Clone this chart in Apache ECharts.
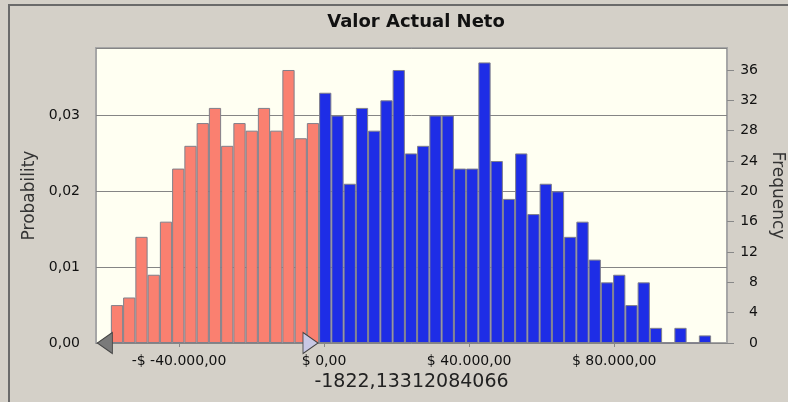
<!DOCTYPE html>
<html>
<head>
<meta charset="utf-8">
<script src="https://cdn.jsdelivr.net/npm/echarts@6/dist/echarts.min.js"></script>
<style>
	html, body { margin: 0; padding: 0; background: #d4d0c8; }
	#wrap { position: relative; width: 788px; height: 402px; overflow: hidden; }
	#frame { position: absolute; left: 8px; top: 4px; width: 800px; height: 420px; border-top: 2px solid #6a6a6a; border-left: 2px solid #6a6a6a; }
	#chart { position: absolute; left: 0; top: 0; width: 788px; height: 402px; }
</style>
</head>
<body>
<div id="wrap">
	<div id="frame"></div>
	<div id="chart"></div>
</div>
<script>
	// histogram bins (Valor Actual Neto), 1000 trials
	const binStart = -58800
	const binWidth = 3378
	const frequency = [5, 6, 14, 9, 16, 23, 26, 29, 31, 26, 29, 28, 31, 28, 36, 27, 29,
		33, 30, 21, 31, 28, 32, 36, 25, 26, 30, 30, 23, 23, 37, 24, 19, 25, 17, 21, 20,
		14, 16, 11, 8, 9, 5, 8, 2, 0, 2, 0, 1]
	const trials = 1000
	const certaintyValue = -1822.13312084066
	const xTicks = [-40000, 0, 40000, 80000]
	const freqTicks = [0, 4, 8, 12, 16, 20, 24, 28, 32, 36]

	function money(v) {
		let s = Math.abs(v).toFixed(0).replace(/\B(?=(\d{3})+(?!\d))/g, '.') + ',00'
		return v < 0 ? '-$ -' + s : '$ ' + s
	}

	let bars = frequency.map(function (f, i) {
		let lo = binStart + i * binWidth
		return {
			value: [lo + binWidth / 2, f],
			itemStyle: { color: lo + binWidth <= certaintyValue + 1000 ? '#fa8070' : '#1e2de6' }
		}
	})

	let mychart = echarts.init(document.getElementById('chart'))
	let option = {
		animation: false,
		textStyle: { fontFamily: 'DejaVu Sans' },
		title: {
			text: 'Valor Actual Neto',
			left: 411, top: 8, textAlign: 'center',
			textStyle: { fontFamily: 'DejaVu Sans', fontWeight: 'bold', fontSize: 18, color: '#111' }
		},
		grid: {
			left: 96, right: 61, top: 48, bottom: 59,
			outerBoundsMode: 'none', containLabel: false,
			show: true, backgroundColor: '#fffff2', borderColor: '#a6a6a6', borderWidth: 2
		},
		xAxis: {
			type: 'value',
			min: -62900, max: 111100,
			name: String(certaintyValue).replace('.', ','),
			nameLocation: 'middle', nameGap: 29,
			nameTextStyle: { fontSize: 19, color: '#222' },
			axisLine: { show: false },
			axisTick: { show: true, length: 4, lineStyle: { color: '#888' }, customValues: xTicks },
			axisLabel: { fontSize: 14, color: '#111', margin: 11, customValues: xTicks, formatter: money },
			splitLine: { show: false }
		},
		yAxis: [{
			type: 'value',
			min: 0, max: 38.9 / trials, interval: 0.01,
			name: 'Probability', nameLocation: 'middle', nameGap: 58,
			nameTextStyle: { fontSize: 17, color: '#333' },
			axisLine: { show: false },
			axisTick: { show: true, length: 9, lineStyle: { color: '#888' } },
			axisLabel: {
				fontSize: 14, color: '#111', margin: 16, showMaxLabel: false,
				formatter: function (v) { return v.toFixed(2).replace('.', ',') }
			},
			splitLine: { show: true, lineStyle: { color: '#858585', width: 1 } }
		}, {
			type: 'value',
			position: 'right',
			min: 0, max: 38.9, interval: 4,
			name: 'Frequency', nameLocation: 'middle', nameGap: 42, nameRotate: -90,
			nameTextStyle: { fontSize: 17, color: '#333' },
			axisLine: { show: false },
			axisTick: { show: true, length: 7, lineStyle: { color: '#888' }, customValues: freqTicks },
			axisLabel: { fontSize: 14, color: '#111', margin: 31, align: 'right', customValues: freqTicks },
			splitLine: { show: false }
		}],
		series: [{
			type: 'bar',
			yAxisIndex: 1,
			barWidth: binWidth * (631 / (111100 + 62900)),
			itemStyle: { borderColor: '#7f7f8a', borderWidth: 1 },
			data: bars,
			markPoint: {
				silent: true,
				label: { show: false },
				data: [{
					coord: [binStart, 0], symbol: 'triangle', symbolSize: [21, 15],
					symbolRotate: 90, symbolOffset: [-6, 0],
					itemStyle: { color: '#7a7a7a', borderColor: '#444', borderWidth: 1 }
				}, {
					coord: [certaintyValue, 0], symbol: 'triangle', symbolSize: [21, 15],
					symbolRotate: -90, symbolOffset: [-7, 0],
					itemStyle: { color: '#c8c8e4', borderColor: '#444', borderWidth: 1 }
				}]
			}
		}]
	}
	mychart.setOption(option)
</script>
</body>
</html>
